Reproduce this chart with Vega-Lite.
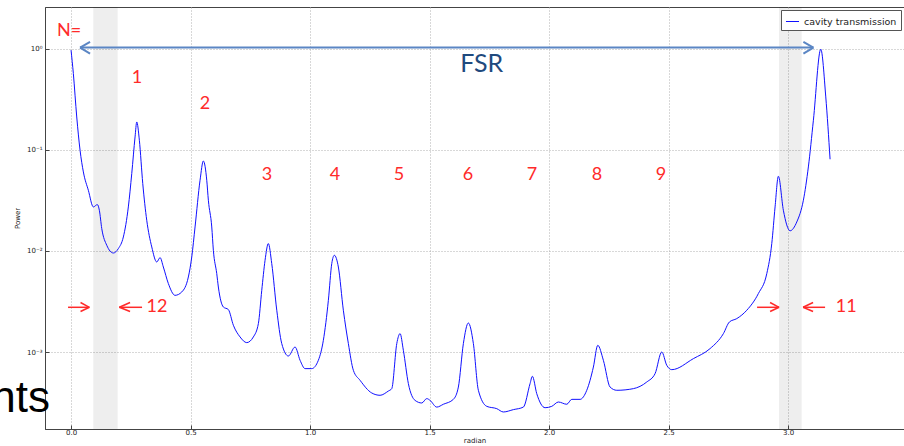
{
  "$schema": "https://vega.github.io/schema/vega-lite/v6.json",
  "width": 859,
  "height": 422,
  "autosize": {"type": "none"},
  "padding": {"left": 45, "top": 7, "right": 0, "bottom": 17},
  "background": "white",
  "config": {
    "view": {"stroke": "#444", "strokeWidth": 1},
    "axis": {
      "labelFont": "DejaVu Sans",
      "titleFont": "DejaVu Sans",
      "labelFontSize": 7,
      "titleFontSize": 7,
      "titleFontWeight": "normal",
      "labelColor": "#222",
      "titleColor": "#222",
      "domainColor": "#444",
      "tickColor": "#444",
      "gridColor": "#b0b0b0",
      "gridDash": [1, 2],
      "gridWidth": 1
    },
    "legend": {
      "orient": "top-right",
      "offset": 3,
      "padding": 4,
      "strokeColor": "#555",
      "fillColor": "white",
      "cornerRadius": 0,
      "symbolType": "stroke",
      "symbolSize": 170,
      "symbolStrokeWidth": 1,
      "symbolStrokeColor": "#3a3aff",
      "labelFont": "DejaVu Sans",
      "labelFontSize": 9.5,
      "labelColor": "#222",
      "labelLimit": 0
    }
  },
  "datasets": {
    "curve": [
      {"x": 0.000, "y": 0.971}, {"x": 0.0096, "y": 0.571}, {"x": 0.0238, "y": 0.212}, {"x": 0.0377, "y": 0.0993},
      {"x": 0.0515, "y": 0.0606}, {"x": 0.0724, "y": 0.0399}, {"x": 0.0933, "y": 0.0273}, {"x": 0.1100, "y": 0.0288},
      {"x": 0.1184, "y": 0.0253}, {"x": 0.1285, "y": 0.01667}, {"x": 0.1494, "y": 0.01139}, {"x": 0.1770, "y": 0.00955},
      {"x": 0.1979, "y": 0.01056}, {"x": 0.2188, "y": 0.01376}, {"x": 0.2397, "y": 0.0273}, {"x": 0.2540, "y": 0.0584},
      {"x": 0.2678, "y": 0.1345}, {"x": 0.2749, "y": 0.1893}, {"x": 0.2858, "y": 0.1247}, {"x": 0.3000, "y": 0.0465},
      {"x": 0.3167, "y": 0.02014}, {"x": 0.3377, "y": 0.01096}, {"x": 0.3586, "y": 0.00778}, {"x": 0.3724, "y": 0.0086},
      {"x": 0.3862, "y": 0.00694}, {"x": 0.4071, "y": 0.00476}, {"x": 0.4351, "y": 0.00364}, {"x": 0.4632, "y": 0.00393},
      {"x": 0.4908, "y": 0.00553}, {"x": 0.5050, "y": 0.00872}, {"x": 0.5188, "y": 0.01729}, {"x": 0.5397, "y": 0.0501},
      {"x": 0.5536, "y": 0.0778}, {"x": 0.5678, "y": 0.0501}, {"x": 0.5745, "y": 0.0318}, {"x": 0.5887, "y": 0.01729},
      {"x": 0.5954, "y": 0.01016}, {"x": 0.6096, "y": 0.00597}, {"x": 0.6163, "y": 0.0044}, {"x": 0.6372, "y": 0.00279},
      {"x": 0.6582, "y": 0.00263}, {"x": 0.6791, "y": 0.00184}, {"x": 0.7071, "y": 0.00141}, {"x": 0.7351, "y": 0.001239},
      {"x": 0.7628, "y": 0.00141}, {"x": 0.7837, "y": 0.00191}, {"x": 0.7979, "y": 0.00408}, {"x": 0.8117, "y": 0.00809},
      {"x": 0.8255, "y": 0.01184}, {"x": 0.8397, "y": 0.0075}, {"x": 0.8607, "y": 0.00259}, {"x": 0.8816, "y": 0.001211},
      {"x": 0.9092, "y": 0.000913}, {"x": 0.9372, "y": 0.001121}, {"x": 0.9582, "y": 0.000828}, {"x": 0.9791, "y": 0.000685},
      {"x": 1.0071, "y": 0.000685}, {"x": 1.0347, "y": 0.000828}, {"x": 1.0556, "y": 0.001305}, {"x": 1.0766, "y": 0.00325},
      {"x": 1.0908, "y": 0.0075}, {"x": 1.1017, "y": 0.00907}, {"x": 1.1184, "y": 0.00694}, {"x": 1.1393, "y": 0.00259},
      {"x": 1.1603, "y": 0.001211}, {"x": 1.1812, "y": 0.000659}, {"x": 1.2092, "y": 0.000525}, {"x": 1.2582, "y": 0.000393},
      {"x": 1.2929, "y": 0.000373}, {"x": 1.3276, "y": 0.000411}, {"x": 1.3418, "y": 0.000434}, {"x": 1.3628, "y": 0.001211},
      {"x": 1.3766, "y": 0.00152}, {"x": 1.3904, "y": 0.001039}, {"x": 1.4113, "y": 0.000487}, {"x": 1.4393, "y": 0.000332},
      {"x": 1.4674, "y": 0.000313}, {"x": 1.4883, "y": 0.000346}, {"x": 1.5021, "y": 0.000332}, {"x": 1.5301, "y": 0.000285},
      {"x": 1.5577, "y": 0.000304}, {"x": 1.5996, "y": 0.00034}, {"x": 1.6205, "y": 0.00045}, {"x": 1.6414, "y": 0.001211},
      {"x": 1.6623, "y": 0.001937}, {"x": 1.6833, "y": 0.001211}, {"x": 1.7042, "y": 0.000418}, {"x": 1.7393, "y": 0.00029},
      {"x": 1.7812, "y": 0.000275}, {"x": 1.8088, "y": 0.000255}, {"x": 1.8506, "y": 0.000269}, {"x": 1.8925, "y": 0.000285},
      {"x": 1.9205, "y": 0.000487}, {"x": 1.9301, "y": 0.000575}, {"x": 1.9485, "y": 0.000387}, {"x": 1.9833, "y": 0.000281},
      {"x": 2.0113, "y": 0.00029}, {"x": 2.0389, "y": 0.00032}, {"x": 2.0741, "y": 0.000304}, {"x": 2.0950, "y": 0.00034},
      {"x": 2.1297, "y": 0.00034}, {"x": 2.1577, "y": 0.000418}, {"x": 2.1854, "y": 0.00071}, {"x": 2.2038, "y": 0.001165},
      {"x": 2.2272, "y": 0.000828}, {"x": 2.2552, "y": 0.00045}, {"x": 2.2833, "y": 0.000418}, {"x": 2.3527, "y": 0.000434},
      {"x": 2.4088, "y": 0.000505}, {"x": 2.4435, "y": 0.000611}, {"x": 2.4715, "y": 0.001}, {"x": 2.4925, "y": 0.000738},
      {"x": 2.5134, "y": 0.000669}, {"x": 2.6038, "y": 0.00086}, {"x": 2.6736, "y": 0.001081}, {"x": 2.7293, "y": 0.00152},
      {"x": 2.7544, "y": 0.001982}, {"x": 2.7854, "y": 0.002142}, {"x": 2.8272, "y": 0.00259}, {"x": 2.8757, "y": 0.00379},
      {"x": 2.9109, "y": 0.00597}, {"x": 2.9318, "y": 0.01184}, {"x": 2.9456, "y": 0.0273}, {"x": 2.9594, "y": 0.0549},
      {"x": 2.9803, "y": 0.0253}, {"x": 3.0084, "y": 0.01585}, {"x": 3.0364, "y": 0.01937}, {"x": 3.0640, "y": 0.0318},
      {"x": 3.0849, "y": 0.0679}, {"x": 3.1059, "y": 0.1968}, {"x": 3.1368, "y": 0.993}, {"x": 3.1577, "y": 0.335},
      {"x": 3.1757, "y": 0.0809}
    ],
    "bands": [
      {"x": 0.093, "x2": 0.195},
      {"x": 2.962, "x2": 3.057}
    ],
    "redArrows": [
      {"x": -0.0126, "y": 0.002771, "x2": 0.0766, "y2": 0.002771},
      {"x": 0.0397, "y": 0.003091, "x2": 0.0766, "y2": 0.002771},
      {"x": 0.0397, "y": 0.002518, "x2": 0.0766, "y2": 0.002771},
      {"x": 0.2021, "y": 0.002771, "x2": 0.2971, "y2": 0.002771},
      {"x": 0.2469, "y": 0.003091, "x2": 0.2021, "y2": 0.002771},
      {"x": 0.2469, "y": 0.002518, "x2": 0.2021, "y2": 0.002771},
      {"x": 2.8703, "y": 0.002771, "x2": 2.9623, "y2": 0.002771},
      {"x": 2.9247, "y": 0.003091, "x2": 2.9623, "y2": 0.002771},
      {"x": 2.9247, "y": 0.002518, "x2": 2.9623, "y2": 0.002771},
      {"x": 3.0628, "y": 0.002771, "x2": 3.1548, "y2": 0.002771},
      {"x": 3.1046, "y": 0.003091, "x2": 3.0628, "y2": 0.002771},
      {"x": 3.1046, "y": 0.002518, "x2": 3.0628, "y2": 0.002771}
    ],
    "fsrArrow": [
      {"x": 0.0377, "y": 1.0324, "x2": 3.1059, "y2": 1.0324},
      {"x": 0.0795, "y": 1.173, "x2": 0.0377, "y2": 1.0324},
      {"x": 0.0795, "y": 0.9005, "x2": 0.0377, "y2": 1.0324},
      {"x": 3.064, "y": 1.173, "x2": 3.1059, "y2": 1.0324},
      {"x": 3.064, "y": 0.9005, "x2": 3.1059, "y2": 1.0324}
    ],
    "redLabels": [
      {"x": -0.0084, "y": 1.497, "t": "N="},
      {"x": 0.2762, "y": 0.5128, "t": "1"},
      {"x": 0.5607, "y": 0.2835, "t": "2"},
      {"x": 0.8201, "y": 0.0562, "t": "3"},
      {"x": 1.1046, "y": 0.0562, "t": "4"},
      {"x": 1.3724, "y": 0.0562, "t": "5"},
      {"x": 1.6611, "y": 0.0562, "t": "6"},
      {"x": 1.9289, "y": 0.0562, "t": "7"},
      {"x": 2.2008, "y": 0.0562, "t": "8"},
      {"x": 2.4686, "y": 0.0562, "t": "9"},
      {"x": 0.3598, "y": 0.002771, "t": "12"},
      {"x": 3.2435, "y": 0.002771, "t": "11"}
    ],
    "fsrText": [{"x": 1.7184, "y": 0.7169, "t": "FSR"}],
    "ntsText": [{"x": -0.0879, "y": 0.000253, "t": "nts"}]
  },
  "layer": [
    {
      "data": {"name": "bands"},
      "mark": {"type": "rect", "color": "#000000", "opacity": 0.065},
      "encoding": {
        "x": {"field": "x", "type": "quantitative", "scale": {"domain": [-0.109, 3.485], "nice": false, "zero": false}},
        "x2": {"field": "x2"}
      }
    },
    {
      "data": {"name": "curve"},
      "transform": [{"calculate": "'cavity transmission'", "as": "series"}],
      "mark": {"type": "line", "strokeWidth": 1, "interpolate": "monotone", "clip": true},
      "encoding": {
        "x": {
          "field": "x", "type": "quantitative",
          "scale": {"domain": [-0.109, 3.485], "nice": false, "zero": false},
          "axis": {
            "title": "radian",
            "values": [0, 0.5, 1, 1.5, 2, 2.5, 3],
            "format": ".1f",
            "tickSize": -4,
            "labelPadding": 3,
            "titlePadding": 1,
            "grid": true
          }
        },
        "y": {
          "field": "y", "type": "quantitative",
          "scale": {"type": "log", "domain": [0.000173, 2.6], "nice": false},
          "axis": {
            "title": "Power",
            "values": [0.001, 0.01, 0.1, 1],
            "labelExpr": "'10' + (datum.value >= 0.5 ? '⁰' : datum.value >= 0.05 ? '⁻¹' : datum.value >= 0.005 ? '⁻²' : '⁻³')",
            "tickSize": -4,
            "labelPadding": 7,
            "titlePadding": 6,
            "grid": true
          }
        },
        "color": {
          "field": "series", "type": "nominal",
          "scale": {"range": ["#1010ff"]},
          "legend": {"title": null}
        }
      }
    },
    {
      "data": {"name": "redArrows"},
      "mark": {"type": "rule", "color": "#ff2a2a", "strokeWidth": 1.5},
      "encoding": {
        "x": {"field": "x", "type": "quantitative"},
        "y": {"field": "y", "type": "quantitative"},
        "x2": {"field": "x2"},
        "y2": {"field": "y2"}
      }
    },
    {
      "data": {"name": "fsrArrow"},
      "mark": {"type": "rule", "color": "#5b86c4", "strokeWidth": 2},
      "encoding": {
        "x": {"field": "x", "type": "quantitative"},
        "y": {"field": "y", "type": "quantitative"},
        "x2": {"field": "x2"},
        "y2": {"field": "y2"}
      }
    },
    {
      "data": {"name": "redLabels"},
      "mark": {"type": "text", "color": "#ff2a2a", "font": "Lato", "fontSize": 18, "align": "center", "baseline": "middle"},
      "encoding": {
        "x": {"field": "x", "type": "quantitative"},
        "y": {"field": "y", "type": "quantitative"},
        "text": {"field": "t"}
      }
    },
    {
      "data": {"name": "fsrText"},
      "mark": {"type": "text", "color": "#1f4a7e", "font": "Lato", "fontSize": 25, "align": "center", "baseline": "middle"},
      "encoding": {
        "x": {"field": "x", "type": "quantitative"},
        "y": {"field": "y", "type": "quantitative"},
        "text": {"field": "t"}
      }
    },
    {
      "data": {"name": "ntsText"},
      "mark": {"type": "text", "color": "#000000", "font": "Liberation Sans", "fontSize": 44, "align": "right", "baseline": "alphabetic"},
      "encoding": {
        "x": {"field": "x", "type": "quantitative"},
        "y": {"field": "y", "type": "quantitative"},
        "text": {"field": "t"}
      }
    }
  ]
}
